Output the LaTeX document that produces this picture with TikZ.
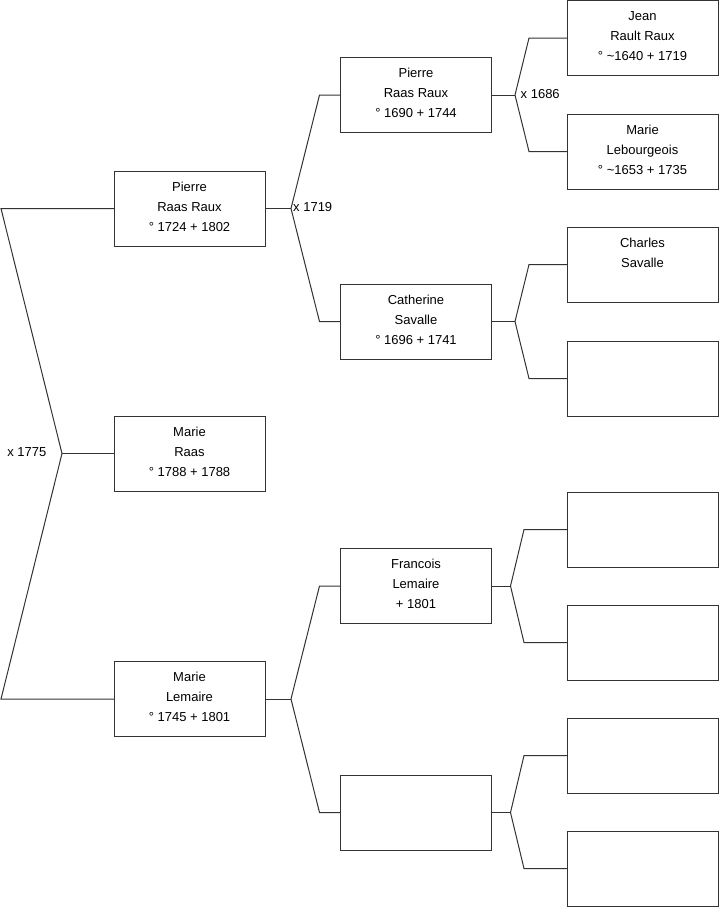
\documentclass[tikz,border=0pt]{standalone}
\usepackage{fontspec}
\setmainfont{Liberation Sans}
\usetikzlibrary{calc}
\tikzset{
  box/.style={draw=black!80, line width=1pt, inner sep=0pt, outer sep=0pt,
              minimum width=151pt, minimum height=75pt},
  link/.style={draw=black!80, line width=1pt},
  mlabel/.style={inner sep=0pt, font=\fontsize{13}{15}\selectfont}
}
\newcommand\boxtxt[1]{\parbox[t][75pt][t]{151pt}{\centering\fontsize{13}{20}\selectfont\rule{0pt}{20pt}#1\par}}
\begin{document}
\begin{tikzpicture}[x=1pt,y=-1pt]
\useasboundingbox (0,0) rectangle (719,908);
% column 1
\node[box] (a1) at (189.5,208.5) {\boxtxt{Pierre\\Raas Raux\\° 1724 + 1802}};
\node[box] (b1) at (189.5,453.5) {\boxtxt{Marie\\Raas\\° 1788 + 1788}};
\node[box] (c1) at (189.5,699)   {\boxtxt{Marie\\Lemaire\\° 1745 + 1801}};
% column 2
\node[box] (a2) at (416,95)    {\boxtxt{Pierre\\Raas Raux\\° 1690 + 1744}};
\node[box] (b2) at (416,321.5) {\boxtxt{Catherine\\Savalle\\° 1696 + 1741}};
\node[box] (c2) at (416,586)   {\boxtxt{Francois\\Lemaire\\+ 1801}};
\node[box] (d2) at (416,812.5) {};
% column 3
\node[box] (a3) at (642.5,38)    {\boxtxt{Jean\\Rault Raux\\° \textasciitilde1640 + 1719}};
\node[box] (b3) at (642.5,151.5) {\boxtxt{Marie\\Lebourgeois\\° \textasciitilde1653 + 1735}};
\node[box] (c3) at (642.5,264.5) {\boxtxt{Charles\\Savalle}};
\node[box] (d3) at (642.5,378.5) {};
\node[box] (e3) at (642.5,529.5) {};
\node[box] (f3) at (642.5,642.5) {};
\node[box] (g3) at (642.5,755.5) {};
\node[box] (h3) at (642.5,868.5) {};
% root group
\coordinate (t0) at (1,208.5);
\coordinate (j0) at (62,453.5);
\coordinate (u0) at (1,699);
\draw[link] (a1.west) -- (t0) -- (j0) -- (u0) -- (c1.west);
\draw[link] (j0) -- (b1.west);
\node[mlabel, anchor=base east] (x1775) at (46.5,456) {x 1775};
% column 1 -> 2
\coordinate (j1) at (291,208.5);
\draw[link] (a1.east) -- (j1);
\draw[link] (j1) -- ($(a2.west)+(-21,0)$) -- (a2.west);
\draw[link] (j1) -- ($(b2.west)+(-21,0)$) -- (b2.west);
\node[mlabel, anchor=base west] (x1719) at (293,211.5) {x 1719};
\coordinate (j2) at (291,699);
\draw[link] (c1.east) -- (j2);
\draw[link] (j2) -- ($(c2.west)+(-21,0)$) -- (c2.west);
\draw[link] (j2) -- ($(d2.west)+(-21,0)$) -- (d2.west);
% column 2 -> 3
\coordinate (k1) at (515,95);
\draw[link] (a2.east) -- (k1);
\draw[link] (k1) -- ($(a3.west)+(-38,0)$) -- (a3.west);
\draw[link] (k1) -- ($(b3.west)+(-38,0)$) -- (b3.west);
\node[mlabel, anchor=base west] (x1686) at (520.5,98) {x 1686};
\coordinate (k2) at (515,321.5);
\draw[link] (b2.east) -- (k2);
\draw[link] (k2) -- ($(c3.west)+(-38,0)$) -- (c3.west);
\draw[link] (k2) -- ($(d3.west)+(-38,0)$) -- (d3.west);
\coordinate (k3) at (510.5,586);
\draw[link] (c2.east) -- (k3);
\draw[link] (k3) -- ($(e3.west)+(-43,0)$) -- (e3.west);
\draw[link] (k3) -- ($(f3.west)+(-43,0)$) -- (f3.west);
\coordinate (k4) at (510.5,812.5);
\draw[link] (d2.east) -- (k4);
\draw[link] (k4) -- ($(g3.west)+(-43,0)$) -- (g3.west);
\draw[link] (k4) -- ($(h3.west)+(-43,0)$) -- (h3.west);
\end{tikzpicture}
\end{document}
